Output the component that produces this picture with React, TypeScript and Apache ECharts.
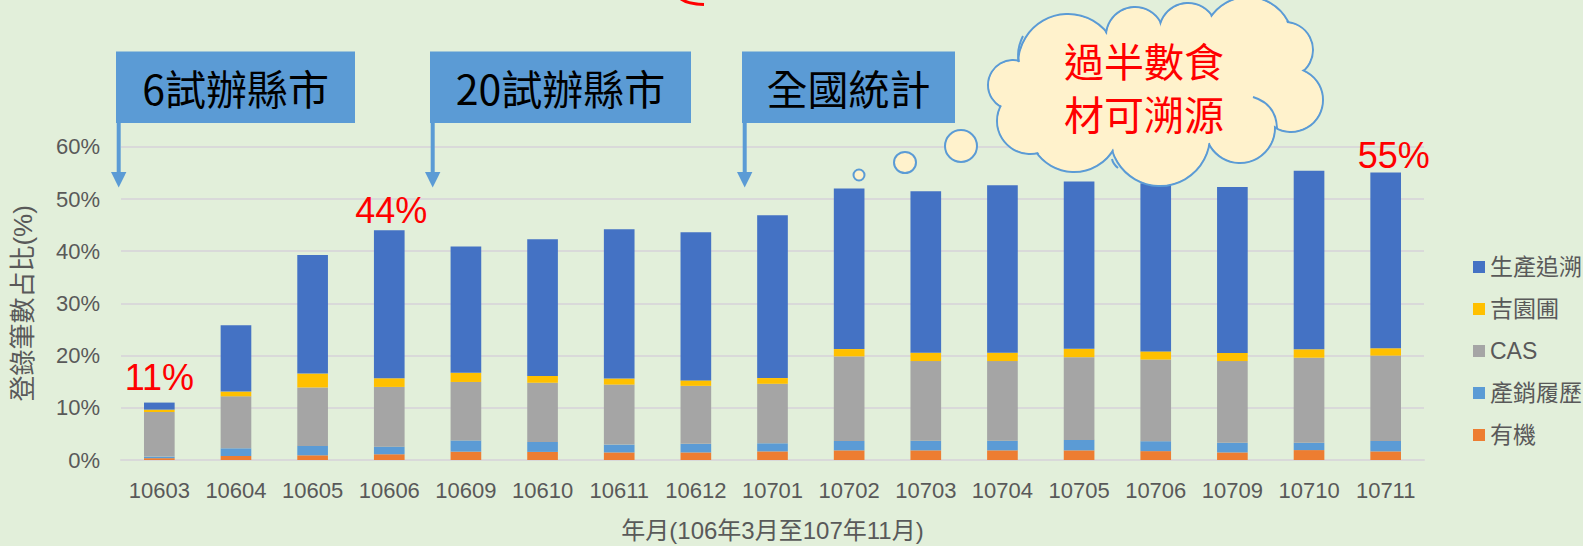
import React, { useEffect, useRef } from 'react';
import * as echarts from 'echarts';

// ---- data (percent of registrations) ----
const categories = ['10603', '10604', '10605', '10606', '10609', '10610', '10611', '10612', '10701', '10702', '10703', '10704', '10705', '10706', '10709', '10710', '10711'];
const organic = [0.35, 0.77, 0.9, 1.1, 1.6, 1.55, 1.45, 1.45, 1.65, 1.85, 1.85, 1.85, 1.85, 1.7, 1.45, 1.9, 1.65];           // 有機
const productionHistory = [0.3, 1.47, 1.8, 1.45, 2.15, 1.9, 1.5, 1.65, 1.55, 1.8, 1.85, 1.85, 2.0, 1.9, 1.85, 1.4, 2.0]; // 產銷履歷
const cas = [8.55, 9.96, 11.2, 11.45, 11.2, 11.35, 11.5, 11.1, 11.4, 16.2, 15.25, 15.25, 15.85, 15.65, 15.65, 16.3, 16.35]; // CAS
const tgap = [0.45, 0.9, 2.65, 1.65, 1.75, 1.3, 1.15, 1.05, 1.1, 1.4, 1.6, 1.6, 1.6, 1.55, 1.55, 1.6, 1.4];              // 吉園圃
const traceability = [1.35, 12.7, 22.7, 28.35, 24.2, 26.2, 28.6, 28.4, 31.2, 30.75, 30.95, 32.1, 32.05, 32.2, 31.8, 34.2, 33.7]; // 生產追溯

const seriesNames = ['有機', '產銷履歷', 'CAS', '吉園圃', '生產追溯'];
const legendOrder = ['生產追溯', '吉園圃', 'CAS', '產銷履歷', '有機'];
const seriesColors = ['#ED7D31', '#5B9BD5', '#A5A5A5', '#FFC000', '#4472C4'];
const yMin = 0;
const yMax = 60;
const yInterval = 10;
const highlightIdx = [0, 3, 16];
const calloutTexts = ['6試辦縣市', '20試辦縣市', '全國統計'];
const cloudLines = ['過半數食', '材可溯源'];
const xAxisName = '年月(106年3月至107年11月)';
const yAxisName = '登錄筆數占比(%)';

const FONT = 'Arial, "Liberation Sans", "Noto Sans CJK TC", sans-serif';
const CJK = '"Noto Sans CJK TC", "Noto Sans", sans-serif';

export default function App() {
  const ref = useRef<HTMLDivElement>(null);

  useEffect(() => {
    if (!ref.current) return;
    const chart = echarts.init(ref.current, null, { renderer: 'svg' });

    const stacks = [organic, productionHistory, cas, tgap, traceability];
    const totals = categories.map((_, i) => stacks.reduce((s, arr) => s + arr[i], 0));

    const labelOffsets: Record<number, number[]> = { 0: [0, -7], 3: [2, -2], 16: [8, 1] };

    const series = stacks.map((arr, si) => ({
      name: seriesNames[si],
      type: 'bar',
      stack: 'total',
      barWidth: '40%',
      itemStyle: { color: seriesColors[si] },
      data: arr.map((v, i) => {
        if (si === stacks.length - 1 && highlightIdx.includes(i)) {
          return {
            value: v,
            label: {
              show: true,
              position: 'top',
              distance: 0,
              offset: labelOffsets[i] || [0, 0],
              formatter: Math.round(totals[i]) + '%',
              color: '#FF0000',
              fontSize: 36,
              fontFamily: FONT,
            },
          };
        }
        return v;
      }),
    }));

    const graphics: any[] = [];
    // callout boxes with arrows
    const boxes = [
      [116, 355],
      [430, 691],
      [742, 955],
    ];
    boxes.forEach(([l, r], k) => {
      graphics.push({ type: 'rect', z: 100, shape: { x: l, y: 51.5, width: r - l, height: 71.5 }, style: { fill: '#5B9BD5' } });
      graphics.push({ type: 'line', z: 100, shape: { x1: l + 2.7, y1: 122, x2: l + 2.7, y2: 173 }, style: { stroke: '#5B9BD5', lineWidth: 4 } });
      graphics.push({ type: 'polygon', z: 100, shape: { points: [[l - 5, 172], [l + 10.4, 172], [l + 2.7, 187.5]] }, style: { fill: '#5B9BD5' } });
      graphics.push({ type: 'text', z: 101, x: (l + r) / 2, y: 87, style: { text: calloutTexts[k], fontSize: 41, fontFamily: CJK, fill: '#000000', align: 'center', verticalAlign: 'middle' } });
    });

    // thought bubbles
    const bubbleStyle = { fill: '#FFF2CC', stroke: '#5B9BD5', lineWidth: 2 };
    graphics.push({ type: 'ellipse', z: 100, shape: { cx: 859, cy: 175, rx: 5.5, ry: 5.5 }, style: bubbleStyle });
    graphics.push({ type: 'ellipse', z: 100, shape: { cx: 905, cy: 162.5, rx: 11, ry: 10.5 }, style: bubbleStyle });
    graphics.push({ type: 'ellipse', z: 100, shape: { cx: 961, cy: 146, rx: 16, ry: 16 }, style: bubbleStyle });

    // cloud
    const bumps = [
      [1013, 85, 25], [1068, 64, 50], [1135, 36, 29], [1188, 32, 29], [1248, 42, 45], [1285, 50, 28],
      [1291, 100, 32], [1240, 128, 35], [1160, 136, 50], [1074, 126, 46], [1030, 121, 33],
    ];
    bumps.forEach(([cx, cy, r]) => {
      graphics.push({ type: 'circle', z: 102, shape: { cx, cy, r }, style: bubbleStyle });
    });
    bumps.forEach(([cx, cy, r]) => {
      graphics.push({ type: 'circle', z: 103, shape: { cx, cy, r: r - 1.4 }, style: { fill: '#FFF2CC' } });
    });
    graphics.push({ type: 'ellipse', z: 103, shape: { cx: 1155, cy: 90, rx: 115, ry: 60 }, style: { fill: '#FFF2CC' } });
    // inner hooks of the cloud outline
    const hookStyle = { stroke: '#5B9BD5', lineWidth: 2, fill: null };
    graphics.push({ type: 'bezierCurve', z: 104, shape: { x1: 1023, y1: 36, cpx1: 1016, cpy1: 50, x2: 1019, y2: 62 }, style: hookStyle });
    graphics.push({ type: 'bezierCurve', z: 104, shape: { x1: 1253, y1: 97, cpx1: 1276, cpy1: 104, x2: 1277, y2: 128 }, style: hookStyle });
    graphics.push({ type: 'bezierCurve', z: 104, shape: { x1: 1112, y1: 159, cpx1: 1113, cpy1: 164, x2: 1118, y2: 168 }, style: hookStyle });
    graphics.push({
      type: 'text', z: 105, x: 1144, y: 86.3,
      style: { text: cloudLines.join('\n'), fontSize: 40, lineHeight: 53.5, fontFamily: CJK, fill: '#FF0000', align: 'center', verticalAlign: 'middle' },
    });

    // red arc fragment at top
    graphics.push({ type: 'bezierCurve', z: 100, shape: { x1: 681, y1: -1, cpx1: 688, cpy1: 4, x2: 704, y2: 4.5 }, style: { stroke: '#FF0000', lineWidth: 3, fill: null } });

    chart.setOption({
      animation: false,
      backgroundColor: '#E2EFDA',
      textStyle: { fontFamily: FONT },
      grid: { left: 121, right: 159, top: 146.8, bottom: 86, containLabel: false, outerBoundsMode: 'none' },
      legend: {
        data: legendOrder,
        orient: 'vertical',
        left: 1468,
        top: 250,
        itemWidth: 12,
        itemHeight: 12,
        itemGap: 18,
        icon: 'rect',
        textStyle: { color: '#595959', fontSize: 23, lineHeight: 24, fontFamily: FONT },
      },
      xAxis: {
        type: 'category',
        data: categories,
        axisLine: { lineStyle: { color: '#D9D9D9', width: 2 } },
        axisTick: { show: false },
        axisLabel: { color: '#595959', fontSize: 22, margin: 19, interval: 0, fontFamily: FONT },
        name: xAxisName,
        nameLocation: 'middle',
        nameGap: 58,
        nameTextStyle: { color: '#595959', fontSize: 24, fontFamily: FONT },
      },
      yAxis: {
        type: 'value',
        min: yMin,
        max: yMax,
        interval: yInterval,
        axisLine: { show: false },
        axisTick: { show: false },
        axisLabel: { color: '#595959', fontSize: 22, margin: 21, formatter: '{value}%', fontFamily: FONT },
        splitLine: { lineStyle: { color: '#D9D9D9', width: 2 } },
        name: yAxisName,
        nameLocation: 'middle',
        nameGap: 85,
        nameTextStyle: { color: '#595959', fontSize: 26, fontFamily: FONT },
      },
      series,
      graphic: { elements: graphics },
    });

    return () => chart.dispose();
  }, []);

  return <div ref={ref} style={{ position: 'absolute', left: 0, top: 0, width: 1583, height: 546 }} />;
}
